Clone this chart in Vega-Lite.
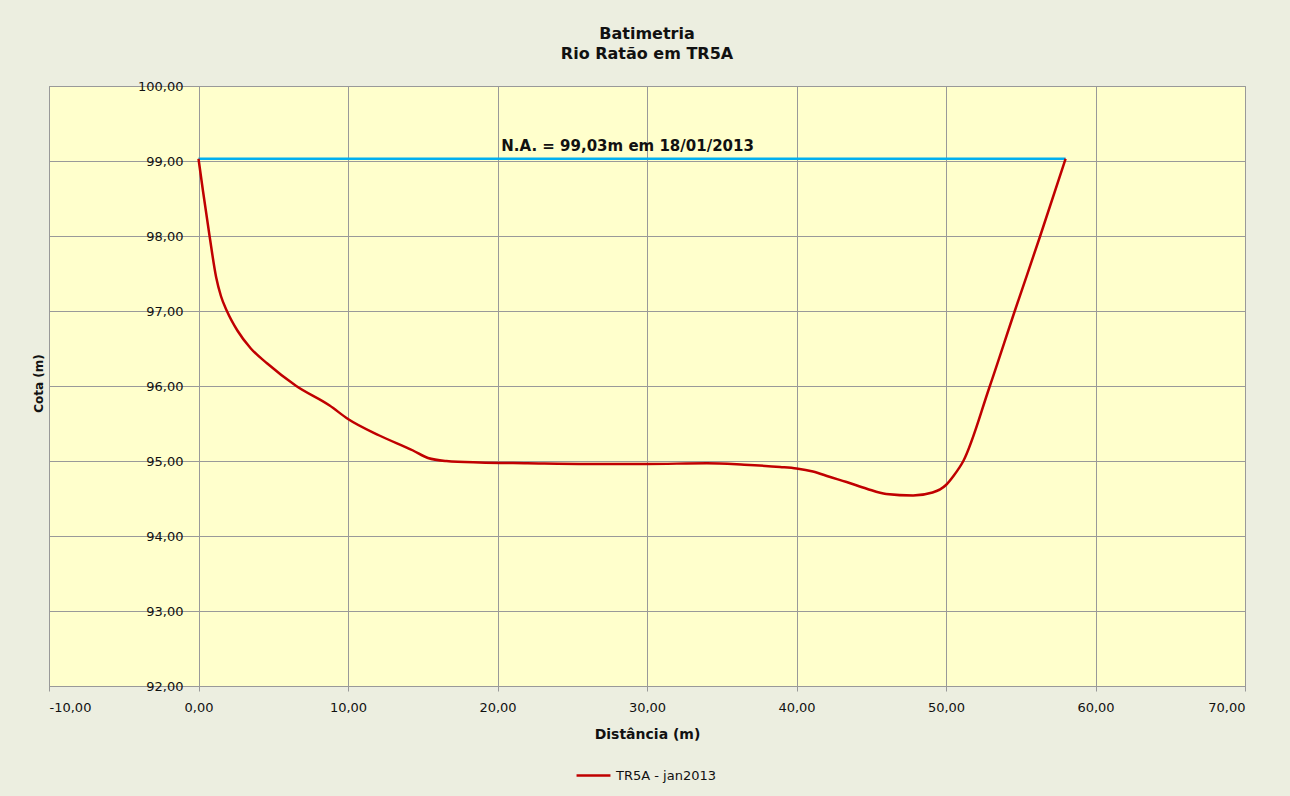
{
  "$schema": "https://vega.github.io/schema/vega-lite/v6.json",
  "autosize": "none",
  "width": 1196,
  "height": 600,
  "padding": {"left": 49, "top": 86, "right": 45, "bottom": 110},
  "background": "#ECEEE0",
  "title": {
    "text": ["Batimetria", "Rio Ratão em TR5A"],
    "font": "DejaVu Sans",
    "fontSize": 16,
    "fontWeight": "bold",
    "color": "#111111",
    "lineHeight": 20,
    "anchor": "middle",
    "offset": 18
  },
  "config": {
    "view": {"fill": "#FFFFCC", "stroke": "#999999", "strokeWidth": 1},
    "font": "DejaVu Sans"
  },
  "datasets": {
    "perfil": [
      {"dist": 0, "cota": 99.03, "serie": "TR5A - jan2013"},
      {"dist": 0.3, "cota": 98.6, "serie": "TR5A - jan2013"},
      {"dist": 0.74, "cota": 98.0, "serie": "TR5A - jan2013"},
      {"dist": 1.18, "cota": 97.45, "serie": "TR5A - jan2013"},
      {"dist": 1.5, "cota": 97.2, "serie": "TR5A - jan2013"},
      {"dist": 1.9, "cota": 97.0, "serie": "TR5A - jan2013"},
      {"dist": 2.6, "cota": 96.74, "serie": "TR5A - jan2013"},
      {"dist": 3.5, "cota": 96.5, "serie": "TR5A - jan2013"},
      {"dist": 4.6, "cota": 96.3, "serie": "TR5A - jan2013"},
      {"dist": 6.54, "cota": 96.0, "serie": "TR5A - jan2013"},
      {"dist": 8.77, "cota": 95.74, "serie": "TR5A - jan2013"},
      {"dist": 10.0, "cota": 95.56, "serie": "TR5A - jan2013"},
      {"dist": 12.1, "cota": 95.34, "serie": "TR5A - jan2013"},
      {"dist": 14.35, "cota": 95.14, "serie": "TR5A - jan2013"},
      {"dist": 15.35, "cota": 95.04, "serie": "TR5A - jan2013"},
      {"dist": 16.58, "cota": 95.0, "serie": "TR5A - jan2013"},
      {"dist": 18.8, "cota": 94.98, "serie": "TR5A - jan2013"},
      {"dist": 22, "cota": 94.97, "serie": "TR5A - jan2013"},
      {"dist": 26, "cota": 94.96, "serie": "TR5A - jan2013"},
      {"dist": 30, "cota": 94.96, "serie": "TR5A - jan2013"},
      {"dist": 34, "cota": 94.97, "serie": "TR5A - jan2013"},
      {"dist": 36.5, "cota": 94.95, "serie": "TR5A - jan2013"},
      {"dist": 38.9, "cota": 94.92, "serie": "TR5A - jan2013"},
      {"dist": 40, "cota": 94.9, "serie": "TR5A - jan2013"},
      {"dist": 41.1, "cota": 94.86, "serie": "TR5A - jan2013"},
      {"dist": 42.2, "cota": 94.79, "serie": "TR5A - jan2013"},
      {"dist": 43.35, "cota": 94.72, "serie": "TR5A - jan2013"},
      {"dist": 44.7, "cota": 94.63, "serie": "TR5A - jan2013"},
      {"dist": 46, "cota": 94.56, "serie": "TR5A - jan2013"},
      {"dist": 47.8, "cota": 94.54, "serie": "TR5A - jan2013"},
      {"dist": 49.1, "cota": 94.58, "serie": "TR5A - jan2013"},
      {"dist": 50, "cota": 94.68, "serie": "TR5A - jan2013"},
      {"dist": 50.5, "cota": 94.8, "serie": "TR5A - jan2013"},
      {"dist": 51.16, "cota": 95.0, "serie": "TR5A - jan2013"},
      {"dist": 52.9, "cota": 95.98, "serie": "TR5A - jan2013"},
      {"dist": 54.6, "cota": 97.0, "serie": "TR5A - jan2013"},
      {"dist": 56.3, "cota": 98.0, "serie": "TR5A - jan2013"},
      {"dist": 58, "cota": 99.03, "serie": "TR5A - jan2013"}
    ],
    "na": [
      {"dist": 0, "cota": 99.03},
      {"dist": 58, "cota": 99.03}
    ],
    "rotulo": [
      {"texto": "N.A. = 99,03m em  18/01/2013"}
    ]
  },
  "layer": [
    {
      "data": {"name": "na"},
      "mark": {"type": "line", "color": "#00B0F0", "strokeWidth": 2.5},
      "encoding": {
        "x": {"field": "dist", "type": "quantitative"},
        "y": {"field": "cota", "type": "quantitative"}
      }
    },
    {
      "data": {"name": "perfil"},
      "mark": {"type": "line", "strokeWidth": 2.5, "interpolate": "monotone"},
      "encoding": {
        "x": {
          "field": "dist",
          "type": "quantitative",
          "scale": {"domain": [-10, 70], "nice": false, "zero": false},
          "axis": {
            "values": [-10, 0, 10, 20, 30, 40, 50, 60, 70],
            "labelExpr": "replace(replace(format(datum.value, '.2f'), '.', ','), '\u2212', '-')",
            "title": "Distância (m)",
            "titleFont": "DejaVu Sans",
            "titleFontSize": 14,
            "titleFontWeight": "bold",
            "titleColor": "#111111",
            "titlePadding": 13,
            "labelFont": "DejaVu Sans",
            "labelFontSize": 13,
            "labelColor": "#111111",
            "labelPadding": 10,
            "tickSize": 5,
            "tickColor": "#999999",
            "domainColor": "#999999",
            "gridColor": "#999999",
            "gridOpacity": 1,
            "grid": true
          }
        },
        "y": {
          "field": "cota",
          "type": "quantitative",
          "scale": {"domain": [92, 100], "nice": false, "zero": false},
          "axis": {
            "values": [92, 93, 94, 95, 96, 97, 98, 99, 100],
            "labelExpr": "replace(format(datum.value, '.2f'), '.', ',')",
            "offset": -150,
            "domain": false,
            "ticks": false,
            "labelPadding": 16,
            "labelFont": "DejaVu Sans",
            "labelFontSize": 13,
            "labelColor": "#111111",
            "labelBaseline": "middle",
            "grid": true,
            "gridColor": "#999999",
            "gridOpacity": 1,
            "title": "Cota (m)",
            "titleFont": "DejaVu Sans",
            "titleFontSize": 12,
            "titleFontWeight": "bold",
            "titleColor": "#111111",
            "titleX": -161,
            "titleY": 297,
            "titleAngle": -90,
            "titleAlign": "center",
            "titleBaseline": "middle"
          }
        },
        "color": {
          "field": "serie",
          "type": "nominal",
          "scale": {"domain": ["TR5A - jan2013"], "range": ["#C00000"]},
          "legend": {
            "orient": "none",
            "legendX": 526,
            "legendY": 671,
            "direction": "horizontal",
            "title": null,
            "symbolType": "stroke",
            "symbolSize": 1150,
            "symbolStrokeWidth": 2.5,
            "labelFont": "DejaVu Sans",
            "labelFontSize": 13,
            "labelColor": "#111111"
          }
        }
      }
    },
    {
      "data": {"name": "rotulo"},
      "mark": {"type": "text", "font": "DejaVu Sans", "fontSize": 15, "fontWeight": "bold", "color": "#111111", "align": "center", "baseline": "alphabetic"},
      "encoding": {
        "x": {"datum": 28.7},
        "y": {"datum": 99.13},
        "text": {"field": "texto"}
      }
    }
  ]
}
